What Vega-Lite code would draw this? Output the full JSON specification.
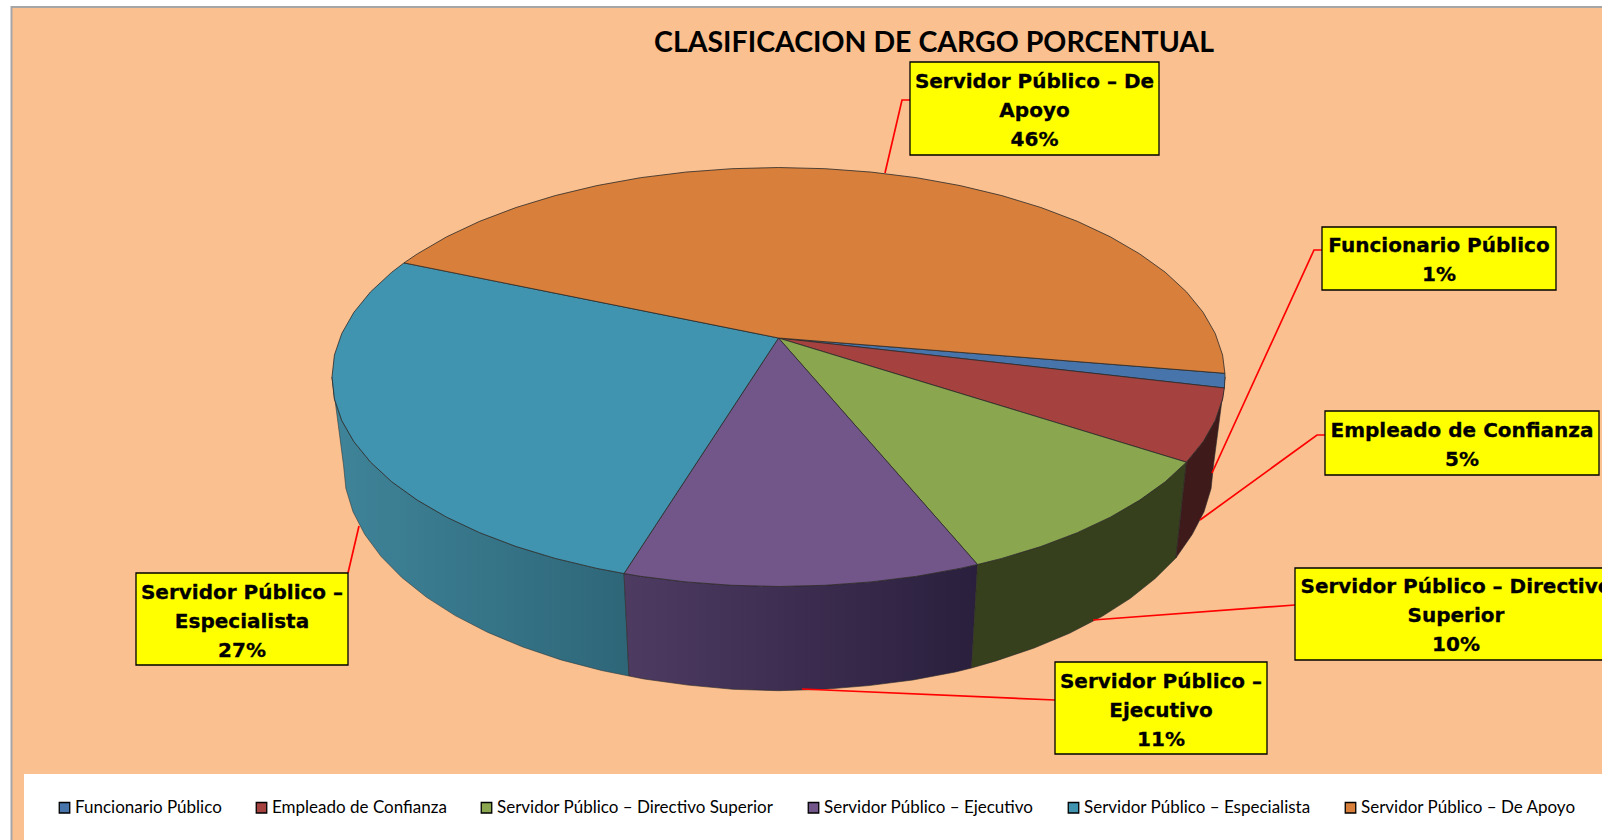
{"$schema":"https://vega.github.io/schema/vega-lite/v6.json","width":1602,"height":840,"padding":0,"autosize":{"type":"none"},"background":"#ffffff","config":{"view":{"stroke":null}},
"title":{"text":"CLASIFICACION DE CARGO PORCENTUAL","anchor":"middle","frame":"group","dx":133,"offset":-86,"baseline":"bottom","font":"Lato","fontWeight":"bold","fontSize":28.5,"color":"#000000"},
"datasets":{
"panels":[{"part":"panel","x":-767,"x2":830,"y":331,"y2":-510},{"part":"legend","x":-754.5,"x2":830,"y":-436,"y2":-510}],
"side":[
{"slice":"Empleado de Confianza","i":0,"x":446.5,"y":-39},{"slice":"Empleado de Confianza","i":1,"x":444.1,"y":-60.9},{"slice":"Empleado de Confianza","i":2,"x":436.7,"y":-82.6},{"slice":"Empleado de Confianza","i":3,"x":424.6,"y":-103.7},{"slice":"Empleado de Confianza","i":4,"x":407.9,"y":-124.2},{"slice":"Empleado de Confianza","i":5,"x":397.4,"y":-220},{"slice":"Empleado de Confianza","i":6,"x":413.7,"y":-196.5},{"slice":"Empleado de Confianza","i":7,"x":425.5,"y":-173.8},{"slice":"Empleado de Confianza","i":8,"x":432.6,"y":-150.5},{"slice":"Empleado de Confianza","i":9,"x":435,"y":-127},
{"slice":"Servidor Público – Directivo Superior","i":0,"x":407.9,"y":-124.2},{"slice":"Servidor Público – Directivo Superior","i":1,"x":386.7,"y":-143.8},{"slice":"Servidor Público – Directivo Superior","i":2,"x":361.2,"y":-162.1},{"slice":"Servidor Público – Directivo Superior","i":3,"x":331.8,"y":-179.2},{"slice":"Servidor Público – Directivo Superior","i":4,"x":298.8,"y":-194.7},{"slice":"Servidor Público – Directivo Superior","i":5,"x":262.4,"y":-208.5},{"slice":"Servidor Público – Directivo Superior","i":6,"x":223.3,"y":-220.4},{"slice":"Servidor Público – Directivo Superior","i":7,"x":199,"y":-226.5},{"slice":"Servidor Público – Directivo Superior","i":8,"x":193,"y":-330},{"slice":"Servidor Público – Directivo Superior","i":9,"x":217.5,"y":-322.9},{"slice":"Servidor Público – Directivo Superior","i":10,"x":255.7,"y":-310},{"slice":"Servidor Público – Directivo Superior","i":11,"x":291.1,"y":-295.2},{"slice":"Servidor Público – Directivo Superior","i":12,"x":323.3,"y":-278.6},{"slice":"Servidor Público – Directivo Superior","i":13,"x":351.9,"y":-260.3},{"slice":"Servidor Público – Directivo Superior","i":14,"x":376.7,"y":-240.5},{"slice":"Servidor Público – Directivo Superior","i":15,"x":397.4,"y":-220},
{"slice":"Servidor Público – Ejecutivo","i":0,"x":199,"y":-226.5},{"slice":"Servidor Público – Ejecutivo","i":1,"x":181.6,"y":-230.4},{"slice":"Servidor Público – Ejecutivo","i":2,"x":138,"y":-238.3},{"slice":"Servidor Público – Ejecutivo","i":3,"x":92.8,"y":-243.9},{"slice":"Servidor Público – Ejecutivo","i":4,"x":46.7,"y":-247.3},{"slice":"Servidor Público – Ejecutivo","i":5,"x":0,"y":-248.5},{"slice":"Servidor Público – Ejecutivo","i":6,"x":-46.7,"y":-247.3},{"slice":"Servidor Público – Ejecutivo","i":7,"x":-92.8,"y":-243.9},{"slice":"Servidor Público – Ejecutivo","i":8,"x":-138,"y":-238.3},{"slice":"Servidor Público – Ejecutivo","i":9,"x":-154.5,"y":-235.5},{"slice":"Servidor Público – Ejecutivo","i":10,"x":-149.5,"y":-338},{"slice":"Servidor Público – Ejecutivo","i":11,"x":-134.4,"y":-341},{"slice":"Servidor Público – Ejecutivo","i":12,"x":-90.4,"y":-347.1},{"slice":"Servidor Público – Ejecutivo","i":13,"x":-45.5,"y":-351.3},{"slice":"Servidor Público – Ejecutivo","i":14,"x":0,"y":-352.7},{"slice":"Servidor Público – Ejecutivo","i":15,"x":45.5,"y":-351.3},{"slice":"Servidor Público – Ejecutivo","i":16,"x":90.4,"y":-347.6},{"slice":"Servidor Público – Ejecutivo","i":17,"x":134.4,"y":-342},{"slice":"Servidor Público – Ejecutivo","i":18,"x":176.9,"y":-334},{"slice":"Servidor Público – Ejecutivo","i":19,"x":193,"y":-330},
{"slice":"Servidor Público – Especialista","i":0,"x":-154.5,"y":-235.5},{"slice":"Servidor Público – Especialista","i":1,"x":-181.6,"y":-230.4},{"slice":"Servidor Público – Especialista","i":2,"x":-223.3,"y":-220.4},{"slice":"Servidor Público – Especialista","i":3,"x":-262.4,"y":-208.5},{"slice":"Servidor Público – Especialista","i":4,"x":-298.8,"y":-194.7},{"slice":"Servidor Público – Especialista","i":5,"x":-331.8,"y":-179.2},{"slice":"Servidor Público – Especialista","i":6,"x":-361.2,"y":-162.1},{"slice":"Servidor Público – Especialista","i":7,"x":-386.7,"y":-143.8},{"slice":"Servidor Público – Especialista","i":8,"x":-407.9,"y":-124.2},{"slice":"Servidor Público – Especialista","i":9,"x":-424.6,"y":-103.7},{"slice":"Servidor Público – Especialista","i":10,"x":-436.7,"y":-82.6},{"slice":"Servidor Público – Especialista","i":11,"x":-444.1,"y":-60.9},{"slice":"Servidor Público – Especialista","i":12,"x":-446.5,"y":-39},{"slice":"Servidor Público – Especialista","i":13,"x":-435,"y":-127},{"slice":"Servidor Público – Especialista","i":14,"x":-432.6,"y":-150.5},{"slice":"Servidor Público – Especialista","i":15,"x":-425.5,"y":-173.8},{"slice":"Servidor Público – Especialista","i":16,"x":-413.7,"y":-196.5},{"slice":"Servidor Público – Especialista","i":17,"x":-397.4,"y":-218.5},{"slice":"Servidor Público – Especialista","i":18,"x":-376.7,"y":-239.5},{"slice":"Servidor Público – Especialista","i":19,"x":-351.9,"y":-259.3},{"slice":"Servidor Público – Especialista","i":20,"x":-323.3,"y":-277.6},{"slice":"Servidor Público – Especialista","i":21,"x":-291.1,"y":-294.2},{"slice":"Servidor Público – Especialista","i":22,"x":-255.7,"y":-309},{"slice":"Servidor Público – Especialista","i":23,"x":-217.5,"y":-321.9},{"slice":"Servidor Público – Especialista","i":24,"x":-176.9,"y":-332.5},{"slice":"Servidor Público – Especialista","i":25,"x":-149.5,"y":-338}
],
"pie":[
{"slice":"Funcionario Público","i":0,"x":0,"y":0},{"slice":"Funcionario Público","i":1,"x":445.9,"y":-50},{"slice":"Funcionario Público","i":2,"x":446.5,"y":-39},{"slice":"Funcionario Público","i":3,"x":446.4,"y":-35.3},
{"slice":"Empleado de Confianza","i":0,"x":0,"y":0},{"slice":"Empleado de Confianza","i":1,"x":407.9,"y":-124.2},{"slice":"Empleado de Confianza","i":2,"x":424.6,"y":-103.7},{"slice":"Empleado de Confianza","i":3,"x":436.7,"y":-82.6},{"slice":"Empleado de Confianza","i":4,"x":444.1,"y":-60.9},{"slice":"Empleado de Confianza","i":5,"x":445.9,"y":-50},
{"slice":"Servidor Público – Directivo Superior","i":0,"x":0,"y":0},{"slice":"Servidor Público – Directivo Superior","i":1,"x":199,"y":-226.5},{"slice":"Servidor Público – Directivo Superior","i":2,"x":223.3,"y":-220.4},{"slice":"Servidor Público – Directivo Superior","i":3,"x":262.4,"y":-208.5},{"slice":"Servidor Público – Directivo Superior","i":4,"x":298.8,"y":-194.7},{"slice":"Servidor Público – Directivo Superior","i":5,"x":331.8,"y":-179.2},{"slice":"Servidor Público – Directivo Superior","i":6,"x":361.2,"y":-162.1},{"slice":"Servidor Público – Directivo Superior","i":7,"x":386.7,"y":-143.8},{"slice":"Servidor Público – Directivo Superior","i":8,"x":407.9,"y":-124.2},
{"slice":"Servidor Público – Ejecutivo","i":0,"x":0,"y":0},{"slice":"Servidor Público – Ejecutivo","i":1,"x":-154.5,"y":-235.5},{"slice":"Servidor Público – Ejecutivo","i":2,"x":-138,"y":-238.3},{"slice":"Servidor Público – Ejecutivo","i":3,"x":-92.8,"y":-243.9},{"slice":"Servidor Público – Ejecutivo","i":4,"x":-46.7,"y":-247.3},{"slice":"Servidor Público – Ejecutivo","i":5,"x":0,"y":-248.5},{"slice":"Servidor Público – Ejecutivo","i":6,"x":46.7,"y":-247.3},{"slice":"Servidor Público – Ejecutivo","i":7,"x":92.8,"y":-243.9},{"slice":"Servidor Público – Ejecutivo","i":8,"x":138,"y":-238.3},{"slice":"Servidor Público – Ejecutivo","i":9,"x":181.6,"y":-230.4},{"slice":"Servidor Público – Ejecutivo","i":10,"x":199,"y":-226.5},
{"slice":"Servidor Público – Especialista","i":0,"x":0,"y":0},{"slice":"Servidor Público – Especialista","i":1,"x":-374.5,"y":75.1},{"slice":"Servidor Público – Especialista","i":2,"x":-386.7,"y":65.8},{"slice":"Servidor Público – Especialista","i":3,"x":-407.9,"y":46.2},{"slice":"Servidor Público – Especialista","i":4,"x":-424.6,"y":25.7},{"slice":"Servidor Público – Especialista","i":5,"x":-436.7,"y":4.6},{"slice":"Servidor Público – Especialista","i":6,"x":-444.1,"y":-17.1},{"slice":"Servidor Público – Especialista","i":7,"x":-446.5,"y":-39},{"slice":"Servidor Público – Especialista","i":8,"x":-444.1,"y":-60.9},{"slice":"Servidor Público – Especialista","i":9,"x":-436.7,"y":-82.6},{"slice":"Servidor Público – Especialista","i":10,"x":-424.6,"y":-103.7},{"slice":"Servidor Público – Especialista","i":11,"x":-407.9,"y":-124.2},{"slice":"Servidor Público – Especialista","i":12,"x":-386.7,"y":-143.8},{"slice":"Servidor Público – Especialista","i":13,"x":-361.2,"y":-162.1},{"slice":"Servidor Público – Especialista","i":14,"x":-331.8,"y":-179.2},{"slice":"Servidor Público – Especialista","i":15,"x":-298.8,"y":-194.7},{"slice":"Servidor Público – Especialista","i":16,"x":-262.4,"y":-208.5},{"slice":"Servidor Público – Especialista","i":17,"x":-223.3,"y":-220.4},{"slice":"Servidor Público – Especialista","i":18,"x":-181.6,"y":-230.4},{"slice":"Servidor Público – Especialista","i":19,"x":-154.5,"y":-235.5},
{"slice":"Servidor Público – De Apoyo","i":0,"x":0,"y":0},{"slice":"Servidor Público – De Apoyo","i":1,"x":446.4,"y":-35.3},{"slice":"Servidor Público – De Apoyo","i":2,"x":444.1,"y":-17.1},{"slice":"Servidor Público – De Apoyo","i":3,"x":436.7,"y":4.6},{"slice":"Servidor Público – De Apoyo","i":4,"x":424.6,"y":25.7},{"slice":"Servidor Público – De Apoyo","i":5,"x":407.9,"y":46.2},{"slice":"Servidor Público – De Apoyo","i":6,"x":386.7,"y":65.8},{"slice":"Servidor Público – De Apoyo","i":7,"x":361.2,"y":84.1},{"slice":"Servidor Público – De Apoyo","i":8,"x":331.8,"y":101.2},{"slice":"Servidor Público – De Apoyo","i":9,"x":298.8,"y":116.7},{"slice":"Servidor Público – De Apoyo","i":10,"x":262.4,"y":130.5},{"slice":"Servidor Público – De Apoyo","i":11,"x":223.3,"y":142.4},{"slice":"Servidor Público – De Apoyo","i":12,"x":181.6,"y":152.4},{"slice":"Servidor Público – De Apoyo","i":13,"x":138,"y":160.3},{"slice":"Servidor Público – De Apoyo","i":14,"x":92.8,"y":165.9},{"slice":"Servidor Público – De Apoyo","i":15,"x":46.7,"y":169.3},{"slice":"Servidor Público – De Apoyo","i":16,"x":0,"y":170.5},{"slice":"Servidor Público – De Apoyo","i":17,"x":-46.7,"y":169.3},{"slice":"Servidor Público – De Apoyo","i":18,"x":-92.8,"y":165.9},{"slice":"Servidor Público – De Apoyo","i":19,"x":-138,"y":160.3},{"slice":"Servidor Público – De Apoyo","i":20,"x":-181.6,"y":152.4},{"slice":"Servidor Público – De Apoyo","i":21,"x":-223.3,"y":142.4},{"slice":"Servidor Público – De Apoyo","i":22,"x":-262.4,"y":130.5},{"slice":"Servidor Público – De Apoyo","i":23,"x":-298.8,"y":116.7},{"slice":"Servidor Público – De Apoyo","i":24,"x":-331.8,"y":101.2},{"slice":"Servidor Público – De Apoyo","i":25,"x":-361.2,"y":84.1},{"slice":"Servidor Público – De Apoyo","i":26,"x":-374.5,"y":75.1}
],
"leaders":[
{"slice":"Servidor Público – De Apoyo","i":0,"x":131.5,"y":238},{"slice":"Servidor Público – De Apoyo","i":1,"x":123.5,"y":238},{"slice":"Servidor Público – De Apoyo","i":2,"x":106.5,"y":165},
{"slice":"Funcionario Público","i":0,"x":543.5,"y":88},{"slice":"Funcionario Público","i":1,"x":535.5,"y":88},{"slice":"Funcionario Público","i":2,"x":433.5,"y":-135},
{"slice":"Empleado de Confianza","i":0,"x":546.5,"y":-97},{"slice":"Empleado de Confianza","i":1,"x":538.5,"y":-97},{"slice":"Empleado de Confianza","i":2,"x":421.5,"y":-182},
{"slice":"Servidor Público – Directivo Superior","i":0,"x":516.5,"y":-267},{"slice":"Servidor Público – Directivo Superior","i":1,"x":314.5,"y":-282},
{"slice":"Servidor Público – Ejecutivo","i":0,"x":276.5,"y":-362},{"slice":"Servidor Público – Ejecutivo","i":1,"x":23.5,"y":-351},
{"slice":"Servidor Público – Especialista","i":0,"x":-430.5,"y":-235},{"slice":"Servidor Público – Especialista","i":1,"x":-419.5,"y":-188}
],
"boxes":[
{"slice":"Servidor Público – De Apoyo","value":46,"label":"Servidor Público – De\nApoyo\n46%","x":131.5,"x2":380.5,"y":276,"y2":183,"cx":256,"cy":256.5},
{"slice":"Funcionario Público","value":1,"label":"Funcionario Público\n1%","x":543.5,"x2":777.5,"y":111,"y2":48,"cx":660.5,"cy":92},
{"slice":"Empleado de Confianza","value":5,"label":"Empleado de Confianza\n5%","x":546.5,"x2":820.5,"y":-73,"y2":-137,"cx":683.5,"cy":-92.7},
{"slice":"Servidor Público – Directivo Superior","value":10,"label":"Servidor Público – Directivo\nSuperior\n10%","x":516.5,"x2":838.5,"y":-230,"y2":-322,"cx":677.5,"cy":-249.4},
{"slice":"Servidor Público – Ejecutivo","value":11,"label":"Servidor Público –\nEjecutivo\n11%","x":276.5,"x2":488.5,"y":-324,"y2":-416,"cx":382.5,"cy":-344},
{"slice":"Servidor Público – Especialista","value":27,"label":"Servidor Público –\nEspecialista\n27%","x":-642.5,"x2":-430.5,"y":-235,"y2":-327,"cx":-536.5,"cy":-255}
]},
"encoding":{
"x":{"field":"x","type":"quantitative","axis":null,"scale":{"domain":[-778.5,823.5],"nice":false,"zero":false}},
"y":{"field":"y","type":"quantitative","axis":null,"scale":{"domain":[-502,338],"nice":false,"zero":false}}
},
"layer":[
{"data":{"name":"panels"},"transform":[{"filter":"datum.part==='panel'"}],"mark":{"type":"rect","fill":"#FBC08F","stroke":"#A6A6A6","strokeWidth":2},"encoding":{"x2":{"field":"x2"},"y2":{"field":"y2"}}},
{"data":{"name":"panels"},"transform":[{"filter":"datum.part==='legend'"}],"mark":{"type":"rect","fill":"#ffffff"},"encoding":{"x2":{"field":"x2"},"y2":{"field":"y2"}}},
{"data":{"name":"side"},"transform":[{"filter":"datum.slice==='Servidor Público – Especialista'"}],"mark":{"type":"line","interpolate":"linear-closed","stroke":"#2b3a40","strokeWidth":0.6,"fill":{"gradient":"linear","x1":0,"y1":0,"x2":1,"y2":0,"stops":[{"offset":0,"color":"#3F8499"},{"offset":1,"color":"#2E6678"}]}},"encoding":{"order":{"field":"i","type":"quantitative"}}},
{"data":{"name":"side"},"transform":[{"filter":"datum.slice==='Servidor Público – Ejecutivo'"}],"mark":{"type":"line","interpolate":"linear-closed","stroke":"#2a2a2a","strokeWidth":0.6,"fill":{"gradient":"linear","x1":0,"y1":0,"x2":1,"y2":0,"stops":[{"offset":0,"color":"#4E3B62"},{"offset":1,"color":"#2A1F3D"}]}},"encoding":{"order":{"field":"i","type":"quantitative"}}},
{"data":{"name":"side"},"transform":[{"filter":"datum.slice==='Servidor Público – Directivo Superior'"}],"mark":{"type":"line","interpolate":"linear-closed","stroke":"#2a2a2a","strokeWidth":0.6,"fill":"#36401D"},"encoding":{"order":{"field":"i","type":"quantitative"}}},
{"data":{"name":"side"},"transform":[{"filter":"datum.slice==='Empleado de Confianza'"}],"mark":{"type":"line","interpolate":"linear-closed","stroke":"#2a2a2a","strokeWidth":0.6,"fill":"#3F1A1A"},"encoding":{"order":{"field":"i","type":"quantitative"}}},
{"data":{"name":"pie"},"mark":{"type":"line","interpolate":"linear-closed","stroke":"#2a2a2a","strokeWidth":0.8},"encoding":{"order":{"field":"i","type":"quantitative"},"fill":{"field":"slice","type":"nominal","scale":{"domain":["Funcionario Público","Empleado de Confianza","Servidor Público – Directivo Superior","Servidor Público – Ejecutivo","Servidor Público – Especialista","Servidor Público – De Apoyo"],"range":["#4674AB","#A54240","#8AA64E","#725589","#4094AF","#D77F3B"]},"legend":{"title":null,"orient":"none","legendX":56,"legendY":799,"direction":"horizontal","columns":6,"gridAlign":"each","columnPadding":31,"symbolType":"square","symbolSize":110,"symbolStrokeColor":"#000000","symbolStrokeWidth":1.3,"labelFont":"Lato","labelFontSize":17,"labelColor":"#000000","labelOffset":2,"labelLimit":400}}}},
{"data":{"name":"leaders"},"mark":{"type":"line","stroke":"#FF0000","strokeWidth":1.7},"encoding":{"detail":{"field":"slice"},"order":{"field":"i","type":"quantitative"}}},
{"data":{"name":"boxes"},"mark":{"type":"rect","fill":"#FFFF00","stroke":"#000000","strokeWidth":1.3},"encoding":{"x2":{"field":"x2"},"y2":{"field":"y2"}}},
{"data":{"name":"boxes"},"mark":{"type":"text","align":"center","baseline":"middle","lineBreak":"\n","lineHeight":29,"font":"DejaVu Sans","fontWeight":"bold","fontSize":20,"stroke":"#000000","strokeWidth":0.3,"color":"#000000"},"encoding":{"x":{"field":"cx","type":"quantitative"},"y":{"field":"cy","type":"quantitative"},"text":{"field":"label"}}}
]}
